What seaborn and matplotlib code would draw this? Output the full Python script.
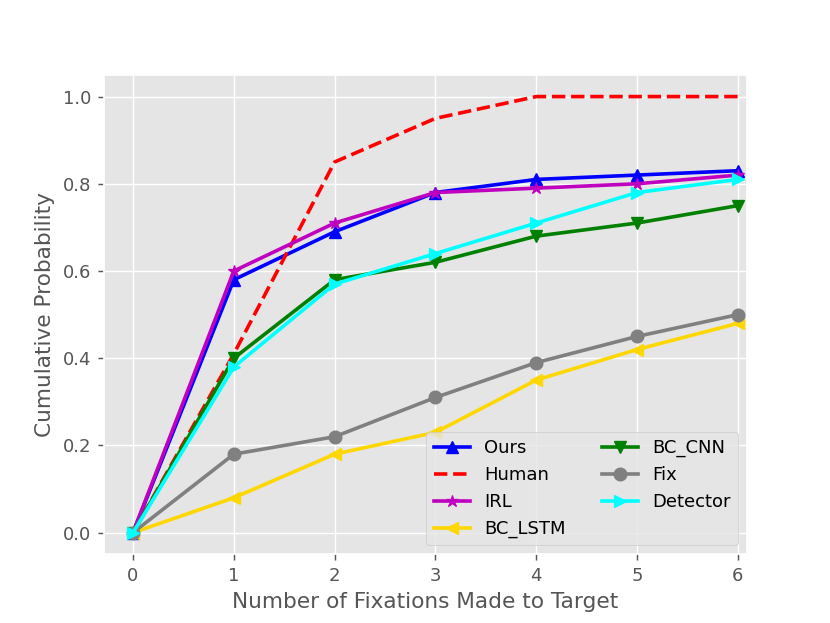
import numpy as np
import pandas as pd
import matplotlib
matplotlib.use('Agg')
import matplotlib.pyplot as plt
import seaborn as sns

plt.style.use('ggplot')

fixations = [0, 1, 2, 3, 4, 5, 6]

ours = [0.0, 0.58, 0.69, 0.78, 0.81, 0.82, 0.83]
human = [0.0, 0.41, 0.85, 0.95, 1.0, 1.0, 1.0]
irl = [0.0, 0.60, 0.71, 0.78, 0.79, 0.80, 0.82]
bc_lstm = [0.0, 0.08, 0.18, 0.23, 0.35, 0.42, 0.48]
bc_cnn = [0.0, 0.40, 0.58, 0.62, 0.68, 0.71, 0.75]
fix = [0.0, 0.18, 0.22, 0.31, 0.39, 0.45, 0.50]
detector = [0.0, 0.38, 0.57, 0.64, 0.71, 0.78, 0.81]

series = [
    ('Ours', ours, 'blue', '^', '-'),
    ('Human', human, 'red', None, '--'),
    ('IRL', irl, 'm', '*', '-'),
    ('BC_LSTM', bc_lstm, 'gold', '<', '-'),
    ('BC_CNN', bc_cnn, 'green', 'v', '-'),
    ('Fix', fix, 'gray', 'o', '-'),
    ('Detector', detector, 'cyan', '>', '-'),
]

fig, ax = plt.subplots(figsize=(830 / 130, 623 / 130), dpi=130)

for name, vals, col, mk, ls in series:
    sns.lineplot(x=fixations, y=vals, ax=ax, label=name, color=col,
                 marker=mk, linestyle=ls, linewidth=2, markersize=7,
                 markeredgecolor=col)

ax.set_xlim(-0.29, 6.09)
ax.set_xticks(fixations)
ax.set_yticks([0.0, 0.2, 0.4, 0.6, 0.8, 1.0])
ax.set_xlabel('Number of Fixations Made to Target')
ax.set_ylabel('Cumulative Probability')
ax.legend(ncol=2, loc='lower right', fontsize=10)

plt.savefig('out.png', dpi=130)
